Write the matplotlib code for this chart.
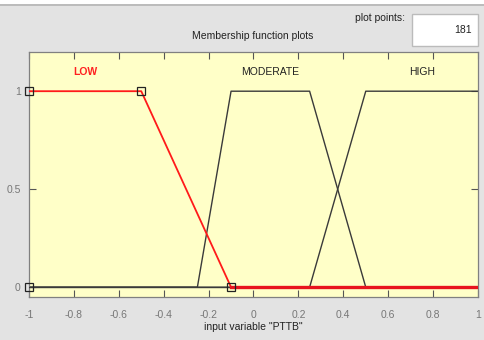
import matplotlib.pyplot as plt
from matplotlib.patches import Rectangle

# membership functions of input variable "PTTB" (breakpoints)
low_x = [-1, -0.5, -0.1, 1]
low_y = [1, 1, 0, 0]
moderate_x = [-1, -0.25, -0.1, 0.25, 0.5, 1]
moderate_y = [0, 0, 1, 1, 0, 0]
high_x = [-1, 0.25, 0.5, 1]
high_y = [0, 0, 1, 1]

# parameter points of the selected MF (LOW)
param_x = [-1, -1, -0.5, -0.1]
param_y = [0, 1, 1, 0]

mf_names = ['LOW', 'MODERATE', 'HIGH']
label_x = [-0.75, 0.075, 0.75]

xticks = [-1, -0.8, -0.6, -0.4, -0.2, 0, 0.2, 0.4, 0.6, 0.8, 1]
xtick_labels = ['-1', '-0.8', '-0.6', '-0.4', '-0.2', '0', '0.2', '0.4', '0.6', '0.8', '1']
yticks = [0, 0.5, 1]
ytick_labels = ['0', '0.5', '1']
plot_points = 181

plt.rcParams['font.family'] = ['Liberation Sans Narrow', 'Liberation Sans', 'DejaVu Sans']

W, H = 484, 340
fig = plt.figure(figsize=(W / 100, H / 100), dpi=100, facecolor='#e3e3e3')

# white strip and border line at the top
fig.patches.append(Rectangle((0, 1 - 4 / H), 1, 4 / H, transform=fig.transFigure,
                             facecolor='white', edgecolor='none'))
fig.lines.append(plt.Line2D([0, 1], [1 - 5 / H, 1 - 5 / H], transform=fig.transFigure,
                            color='#b5b5b5', lw=1.2))

ax = fig.add_axes([29 / W, 1 - 297 / H, 449 / W, 245 / H])
ax.set_facecolor('#ffffc8')

ax.plot(moderate_x, moderate_y, color='#3a3a3a', lw=1.0)
ax.plot(high_x, high_y, color='#3a3a3a', lw=1.0)
ax.plot(low_x[:3], low_y[:3], color='#ff1a1a', lw=1.3, zorder=4)
ax.plot(low_x[2:], low_y[2:], color='#e8141e', lw=2.4, zorder=4)
ax.plot([-1, -0.1], [0, 0], color='#3a3a3a', lw=1.0, zorder=3)
ax.plot(param_x, param_y, ls='none', marker='s', ms=6, mfc='none', mec='#222222',
        mew=0.9, zorder=5, clip_on=False)

for name, lx in zip(mf_names, label_x):
    ax.text(lx, 1.1, name, ha='center', va='center', fontsize=7.5,
            color='#ff2020' if name == 'LOW' else '#222222',
            fontweight='bold' if name == 'LOW' else 'normal')

ax.set_xlim(-1, 1)
ax.set_ylim(-0.05, 1.2)
ax.set_xticks(xticks)
ax.set_xticklabels(xtick_labels)
ax.set_yticks(yticks)
ax.set_yticklabels(ytick_labels)
ax.tick_params(direction='in', top=True, right=True, length=5, width=0.8,
               colors='#555555', labelcolor='#777777', labelsize=7.5)
ax.tick_params(axis='x', pad=9)
ax.tick_params(axis='y', pad=6)
for s in ax.spines.values():
    s.set_color('#808080')
    s.set_linewidth(0.9)

fig.text(253 / W, 1 - 36 / H, 'Membership function plots', ha='center', va='center',
         fontsize=7.5, color='#222222')
fig.text(253 / W, 1 - 327 / H, 'input variable "PTTB"', ha='center', va='center',
         fontsize=7.5, color='#222222')
fig.text(380 / W, 1 - 18 / H, 'plot points:', ha='center', va='center',
         fontsize=7.5, color='#222222')
fig.patches.append(Rectangle((412 / W, 1 - 46 / H), 66 / W, 32 / H, transform=fig.transFigure,
                             facecolor='white', edgecolor='#bbbbbb', lw=1))
fig.text(472 / W, 1 - 30 / H, str(plot_points), ha='right', va='center',
         fontsize=7.5, color='#222222')

fig.savefig('out.png', dpi=100, facecolor=fig.get_facecolor())
